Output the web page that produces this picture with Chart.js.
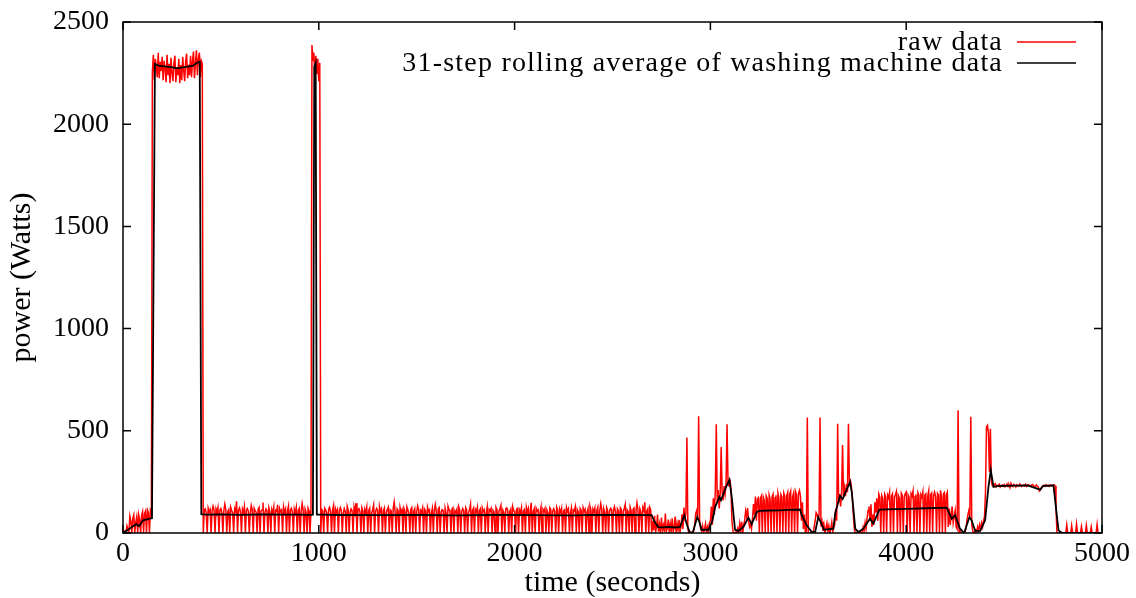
<!DOCTYPE html>
<html>
<head>
<meta charset="utf-8">
<script src="https://cdn.jsdelivr.net/npm/chart.js@4.4.1/dist/chart.umd.min.js"></script>
<style>
  body { margin: 0; background: #fff; }
</style>
</head>
<body>
<canvas id="myChart" width="1136" height="598"></canvas>
<script>
// raw meter readings, one every 5 seconds from t = 0 to t = 5000
const rawStep = 5;
const rawPower = [
    0, 4, 10, 0, 35, 18, 0, 82, 58, 0, 70, 88, 0, 52, 79, 0, 90, 66, 0, 86,
    104, 0, 96, 108, 0, 112, 100, 0, 110, 98, 2255, 2340, 2215, 2320, 2285, 2230, 2350, 2225, 2305, 2260,
    2330, 2215, 2310, 2270, 2205, 2340, 2240, 2295, 2200, 2325, 2250, 2210, 2300, 2335, 2205, 2280, 2240, 2320, 2200, 2290,
    2215, 2330, 2260, 2210, 2310, 2345, 2225, 2290, 2240, 2335, 2230, 2310, 2355, 2225, 2300, 2362, 2240, 2320, 2350, 2230,
    2310, 2295, 0, 112, 118, 98, 0, 122, 105, 115, 0, 108, 131, 112, 0, 119, 104, 125, 0, 113,
    120, 101, 0, 109, 142, 117, 0, 103, 114, 0, 126, 110, 99, 0, 118, 106, 155, 0, 111, 123,
    104, 0, 116, 100, 129, 0, 112, 120, 107, 0, 98, 135, 115, 0, 121, 109, 102, 0, 117, 126,
    0, 108, 113, 149, 0, 101, 118, 110, 0, 124, 105, 0, 115, 99, 128, 0, 111, 107, 138, 0,
    119, 104, 112, 0, 127, 100, 116, 0, 109, 132, 0, 114, 121, 103, 0, 117, 98, 125, 0, 110,
    120, 0, 106, 144, 113, 0, 118, 101, 0, 122, 109, 0, 104, 2387, 2310, 2350, 2220, 2335, 2245, 2320,
    2210, 2300, 0, 115, 108, 0, 121, 112, 99, 0, 117, 126, 104, 0, 110, 133, 0, 119, 102, 115,
    0, 108, 124, 111, 0, 97, 120, 106, 0, 131, 114, 0, 103, 118, 109, 0, 126, 100, 146, 0,
    112, 119, 105, 0, 123, 108, 0, 116, 101, 127, 0, 110, 121, 0, 98, 114, 137, 0, 106, 120,
    111, 0, 129, 104, 117, 0, 109, 122, 0, 100, 115, 126, 0, 113, 107, 0, 119, 151, 103, 0,
    118, 110, 0, 125, 102, 114, 0, 121, 106, 0, 128, 112, 99, 0, 116, 124, 0, 108, 119, 0,
    104, 133, 115, 0, 110, 101, 122, 0, 117, 109, 0, 126, 105, 113, 0, 98, 120, 0, 112, 139,
    107, 0, 118, 124, 0, 103, 115, 110, 0, 121, 99, 0, 130, 114, 106, 0, 117, 123, 0, 109,
    101, 116, 0, 128, 112, 0, 105, 119, 108, 0, 124, 113, 0, 100, 117, 142, 0, 110, 121, 0,
    115, 104, 126, 0, 109, 118, 0, 122, 106, 113, 0, 98, 127, 0, 116, 108, 120, 0, 111, 103,
    0, 125, 114, 0, 107, 119, 135, 0, 112, 101, 0, 118, 123, 109, 0, 104, 116, 0, 129, 110,
    106, 0, 117, 121, 0, 113, 100, 124, 0, 108, 115, 0, 126, 103, 119, 0, 111, 148, 0, 105,
    118, 0, 122, 109, 114, 0, 101, 127, 0, 116, 107, 120, 0, 112, 99, 0, 123, 115, 0, 108,
    119, 104, 0, 126, 111, 0, 117, 102, 121, 0, 109, 114, 0, 125, 106, 118, 0, 100, 122, 0,
    113, 108, 128, 0, 115, 103, 0, 120, 111, 0, 124, 107, 116, 0, 102, 119, 0, 131, 112, 0,
    117, 105, 122, 0, 110, 126, 0, 108, 143, 114, 0, 119, 101, 0, 125, 112, 0, 106, 121, 117,
    0, 111, 129, 103, 0, 118, 109, 0, 123, 115, 0, 107, 120, 139, 0, 113, 104, 0, 127, 110,
    0, 116, 122, 0, 108, 147, 113, 0, 119, 105, 0, 124, 111, 150, 0, 109, 118, 0, 126, 114,
    0, 60, 12, 84, 4, 30, 90, 6, 42, 0, 75, 15, 38, 5, 95, 8, 22, 66, 2, 45,
    10, 72, 3, 28, 80, 0, 45, 15, 64, 5, 33, 92, 20, 125, 60, 100, 467, 20, 0, 0,
    5, 0, 0, 12, 40, 95, 110, 80, 571, 60, 20, 10, 35, 0, 18, 45, 5, 28, 0, 50,
    60, 130, 40, 170, 90, 200, 532, 150, 210, 120, 190, 421, 200, 160, 230, 190, 240, 532, 250, 230,
    262, 215, 60, 10, 0, 0, 5, 0, 22, 0, 46, 12, 55, 0, 40, 62, 108, 80, 122, 60,
    30, 45, 20, 70, 142, 90, 178, 60, 165, 172, 0, 168, 180, 0, 175, 158, 0, 182, 170, 0,
    186, 165, 0, 178, 190, 0, 172, 185, 0, 194, 168, 0, 188, 176, 0, 196, 181, 0, 184, 199,
    0, 190, 205, 0, 178, 196, 0, 202, 187, 0, 193, 208, 180, 60, 150, 20, 90, 0, 10, 565,
    0, 0, 0, 5, 0, 0, 30, 60, 100, 90, 70, 85, 565, 30, 55, 10, 40, 0, 25, 48,
    8, 35, 0, 20, 52, 5, 30, 40, 120, 60, 535, 150, 190, 130, 200, 430, 170, 220, 180, 240,
    200, 535, 250, 258, 230, 170, 90, 20, 0, 0, 5, 0, 0, 8, 0, 3, 30, 10, 50, 20,
    70, 110, 130, 60, 140, 30, 90, 40, 150, 100, 170, 60, 190, 175, 0, 182, 168, 0, 190, 177,
    0, 185, 172, 198, 0, 180, 191, 0, 176, 187, 203, 0, 183, 170, 0, 195, 184, 0, 178, 192,
    200, 0, 186, 174, 0, 193, 181, 205, 0, 179, 190, 0, 197, 184, 0, 188, 176, 201, 0, 185,
    192, 0, 181, 207, 0, 189, 196, 0, 183, 200, 178, 0, 194, 186, 0, 209, 180, 0, 191, 198,
    0, 187, 200, 30, 120, 40, 90, 130, 50, 80, 110, 30, 20, 600, 0, 10, 0, 0, 0, 5,
    0, 20, 60, 90, 110, 80, 569, 40, 10, 0, 0, 15, 5, 30, 10, 40, 20, 50, 30, 60,
    80, 200, 520, 527, 490, 300, 510, 250, 232, 228, 236, 241, 226, 233, 230, 238, 224, 231, 235, 229,
    237, 226, 232, 240, 228, 235, 222, 243, 230, 227, 238, 233, 225, 236, 231, 229, 240, 234, 227, 232,
    235, 230, 238, 228, 233, 236, 231, 229, 234, 237, 232, 226, 230, 235, 228, 225, 205, 210, 222, 228,
    232, 234, 229, 236, 231, 233, 228, 235, 230, 234, 232, 236, 231, 120, 0, 0, 0, 0, 0, 0,
    0, 0, 0, 0, 40, 0, 0, 0, 0, 36, 0, 0, 0, 0, 44, 0, 0, 0, 0, 32,
    0, 0, 0, 0, 38, 0, 0, 0, 0, 30, 0, 0, 0, 0, 0, 42, 0, 0, 0, 0,
    0
];

// rolling average
const avgTime = [0, 20, 40, 51, 68, 82, 102, 136, 148, 163, 183, 220, 256, 273, 324, 358, 378, 392, 400,
    420, 500, 600, 700, 800, 900, 950, 970, 977, 984, 990, 1014, 1100, 1300, 1500, 1700, 1900, 2100, 2300, 2400, 2500, 2600, 2700,
    2715, 2733, 2760, 2790, 2820, 2845, 2867, 2880, 2896, 2910, 2933, 2945, 2955, 2990, 3010, 3024, 3046, 3054, 3080, 3097, 3109,
    3126, 3143, 3168, 3194, 3211, 3237, 3250, 3300, 3350, 3400, 3458, 3466, 3492, 3518, 3535, 3551, 3568, 3580, 3628,
    3637, 3650, 3662, 3675, 3690, 3713, 3722, 3740, 3756, 3781, 3815, 3832, 3863, 3900, 4000, 4100, 4207,
    4233, 4250, 4275, 4296, 4323, 4335, 4352, 4378, 4403, 4420, 4432, 4446, 4470, 4550, 4620, 4684, 4700, 4752, 4778, 4795, 5000];
const avgPower = [0, 12, 25, 33, 43, 33, 62, 70, 72, 2295, 2286, 2282, 2278, 2273, 2280, 2286, 2300, 2306, 92,
    90, 91, 89, 91, 90, 90, 89, 90, 2280, 2300, 90, 90, 88, 87, 88, 86, 88, 87, 86, 89, 88, 88, 87,
    55, 29, 28, 30, 27, 30, 87, 40, 0, 3, 78, 50, 16, 16, 60, 127, 176, 160, 225, 261, 176,
    16, 10, 29, 75, 43, 103, 108, 110, 111, 113, 115, 87, 38, 5, 5, 78, 43, 16, 21,
    95, 140, 182, 165, 200, 248, 200, 20, 5, 21, 70, 46, 114, 116, 118, 121, 124,
    70, 87, 21, 0, 78, 60, 10, 10, 62, 225, 307, 225, 230, 232, 233, 212, 230, 233, 13, 0, 0];

const xTicks = [0, 1000, 2000, 3000, 4000, 5000];
const yTicks = [0, 500, 1000, 1500, 2000, 2500];

const seriesLabels = ["raw data", "31-step rolling average of washing machine data"];

const serif = "'Liberation Serif', 'Times New Roman', serif";

// gnuplot style frame with inward ticks on all four sides
const frameTicks = {
    id: 'frameTicks',
    afterDraw(chart) {
        const {ctx, chartArea: a, scales} = chart;
        ctx.save();
        ctx.strokeStyle = '#000';
        ctx.lineWidth = 1.5;
        ctx.strokeRect(a.left, a.top, a.right - a.left, a.bottom - a.top);
        ctx.beginPath();
        xTicks.forEach((v) => {
            let px = scales.x.getPixelForValue(v);
            ctx.moveTo(px, a.bottom); ctx.lineTo(px, a.bottom - 8);
            ctx.moveTo(px, a.top); ctx.lineTo(px, a.top + 8);
        });
        yTicks.forEach((v) => {
            let py = scales.y.getPixelForValue(v);
            ctx.moveTo(a.left, py); ctx.lineTo(a.left + 8, py);
            ctx.moveTo(a.right, py); ctx.lineTo(a.right - 8, py);
        });
        ctx.stroke();
        ctx.restore();
    }
};

// key in the top right corner: text right aligned, sample line after it
const keyBox = {
    id: 'keyBox',
    afterDraw(chart) {
        const {ctx, chartArea: a} = chart;
        ctx.save();
        ctx.font = "28px " + serif;
        ctx.letterSpacing = "1.2px";
        ctx.textAlign = 'right';
        ctx.textBaseline = 'alphabetic';
        chart.data.datasets.forEach((ds, i) => {
            let base = a.top + 27.5 + i * 21;
            ctx.fillStyle = '#000';
            ctx.fillText(ds.label, a.right - 99, base);
            ctx.strokeStyle = ds.borderColor;
            ctx.lineWidth = 1.5;
            ctx.beginPath();
            ctx.moveTo(a.right - 85, base - 7.5);
            ctx.lineTo(a.right - 26, base - 7.5);
            ctx.stroke();
        });
        ctx.restore();
    }
};

const ctx = document.getElementById('myChart');

new Chart(ctx, {
    type: 'line',
    data: {
        datasets: [{
            label: seriesLabels[0],
            data: rawPower.map((w, i) => ({x: i * rawStep, y: w})),
            borderColor: '#ff0000',
            borderWidth: 1.5,
            pointRadius: 0,
            tension: 0,
            order: 2,
        }, {
            label: seriesLabels[1],
            data: avgTime.map((t, i) => ({x: t, y: avgPower[i]})),
            borderColor: '#000000',
            borderWidth: 1.8,
            pointRadius: 0,
            tension: 0,
            order: 1,
        }]
    },
    options: {
        responsive: false,
        animation: false,
        layout: {
            padding: {top: 22, right: 34, bottom: 0, left: 0}
        },
        plugins: {
            legend: {display: false},
            tooltip: {enabled: false},
        },
        scales: {
            x: {
                type: 'linear',
                min: 0,
                max: 5000,
                afterBuildTicks: (s) => { s.ticks = xTicks.map((v) => ({value: v})); },
                afterFit: (s) => { s.height = 65; s.paddingLeft = 0; s.paddingRight = 0; },
                ticks: {
                    color: '#000',
                    font: {family: serif, size: 28},
                    padding: 4,
                    maxRotation: 0,
                    callback: (v) => String(v),
                },
                grid: {display: false, drawTicks: false},
                border: {display: false},
                title: {
                    display: true,
                    text: 'time (seconds)',
                    color: '#000',
                    font: {family: serif, size: 30, lineHeight: 1},
                    padding: 0,
                }
            },
            y: {
                min: 0,
                max: 2500,
                afterBuildTicks: (s) => { s.ticks = yTicks.map((v) => ({value: v})); },
                afterFit: (s) => { s.width = 123; s.paddingTop = 0; s.paddingBottom = 0; },
                ticks: {
                    color: '#000',
                    font: {family: serif, size: 28},
                    padding: 14,
                    callback: (v) => String(v),
                },
                grid: {display: false, drawTicks: false},
                border: {display: false},
                title: {
                    display: true,
                    text: 'power (Watts)',
                    color: '#000',
                    font: {family: serif, size: 30, lineHeight: 1},
                    padding: {top: 7, bottom: 0},
                }
            }
        }
    },
    plugins: [frameTicks, keyBox]
});
</script>
</body>
</html>
